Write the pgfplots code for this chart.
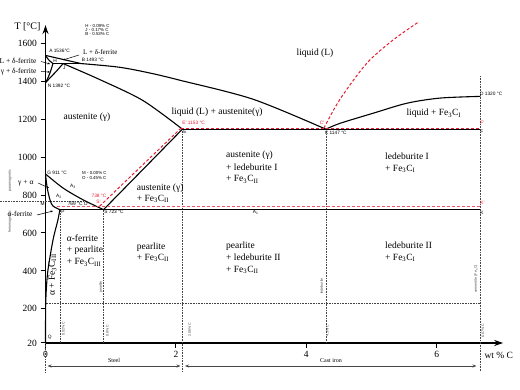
\documentclass[border=0pt]{standalone}
\usepackage{pgfplots}
\pgfplotsset{compat=1.18}
\usepackage{fontspec}
\setmainfont{Liberation Serif}
\setsansfont{Liberation Sans}
\usetikzlibrary{arrows.meta}
\definecolor{rd}{RGB}{228,32,48}
\definecolor{dg}{RGB}{70,70,70}
\tikzset{
  lbl/.style={font=\fontsize{9.5}{11.5}\selectfont},
  sm/.style={font=\sffamily\fontsize{4.8}{5}\selectfont, inner sep=0.6pt},
  tn/.style={font=\sffamily\fontsize{3.6}{4}\selectfont, inner sep=0.5pt},
  an/.style={font=\sffamily\fontsize{4.4}{4.5}\selectfont, inner sep=0.3pt},
}
\newcommand\FeC[1]{Fe\textsubscript{3}C\textsubscript{#1}}
\begin{document}
\begin{tikzpicture}
\useasboundingbox (-45.5pt,-47pt) rectangle (474.5pt,343pt);
\begin{axis}[
  at={(0,0)}, anchor=south west,
  x=65.2pt, y=0.1897pt,
  xmin=0, xmax=7.02, ymin=20, ymax=1696,
  axis lines=left,
  axis line style={line width=1.3pt, -{Stealth[length=9pt,width=6pt]}},
  clip=false,
  xtick={0,2,4,6},
  ytick={20,200,400,600,800,1000,1200,1400,1600},
  tick align=outside, major tick length=5pt,
  tick style={line width=1pt,black},
  ticklabel style={font=\fontsize{9.5}{10}\selectfont},
  /pgf/number format/assume math mode=true,
  /pgf/number format/1000 sep={},
]
% --- dotted reference lines
\addplot[densely dotted, line width=0.6pt, dg] coordinates {(0.22,723) (0.22,20)};
\addplot[densely dotted, line width=0.6pt, dg] coordinates {(0.89,723) (0.89,20)};
\addplot[densely dotted, line width=0.6pt, dg] coordinates {(2.1,1147) (2.1,-133)};
\addplot[densely dotted, line width=0.6pt, dg] coordinates {(4.3,1147) (4.3,20)};
\addplot[densely dotted, line width=0.6pt, dg] coordinates {(6.67,1427) (6.67,-133)};
\addplot[densely dotted, line width=0.6pt, dg] coordinates {(0,20) (0,-133)};
\addplot[densely dotted, line width=0.6pt, dg] coordinates {(0,230) (6.67,230)};
\addplot[densely dotted, line width=0.6pt, dg] coordinates {(-0.70,769) (0.6,769)};
% --- phase boundaries
\addplot[line width=1.1pt] coordinates {(0,1536) (0.545,1493)};
\addplot[line width=1.1pt, smooth] coordinates {(0.545,1493) (1.126,1474) (1.603,1443) (2.063,1405) (3.183,1305) (4.30,1147)};
\addplot[line width=1.1pt] coordinates {(0.115,1493) (0.545,1493)};
\addplot[line width=1.1pt, smooth] coordinates {(0,1536) (0.05,1512) (0.115,1493)};
\addplot[line width=1.1pt, smooth] coordinates {(0.115,1493) (0.07,1445) (0.03,1412) (0,1392)};
\addplot[line width=1.1pt, smooth] coordinates {(0,1392) (0.07,1418) (0.16,1450) (0.27,1493)};
\addplot[line width=1.1pt, smooth] coordinates {(0.27,1493) (0.836,1408) (1.495,1298) (2.1,1147)};
\addplot[line width=1.1pt] coordinates {(2.1,1147) (6.67,1147)};
\addplot[line width=1.1pt, smooth] coordinates {(4.3,1147) (4.517,1178) (5.023,1231) (5.544,1284) (6.05,1311) (6.67,1320)};
\addplot[line width=1.1pt] coordinates {(2.1,1147) (0.89,723)};
\addplot[line width=1.1pt, smooth] coordinates {(0,911) (0.273,836) (0.58,774) (0.89,723)};
\addplot[line width=1.1pt, smooth] coordinates {(0,911) (0.025,840) (0.069,774) (0.115,742) (0.22,723)};
\addplot[line width=1.1pt] coordinates {(0.22,723) (6.67,723)};
\addplot[line width=1.1pt, smooth] coordinates {(0.22,723) (0.19,668) (0.115,563) (0.038,405) (0.012,300) (0.002,200) (0,20)};
% --- metastable (red dashed)
\addplot[rd, line width=1pt, dash pattern=on 3pt off 2pt, smooth] coordinates {(4.27,1153) (4.517,1305) (4.926,1494) (5.33,1617) (5.73,1714)};
\addplot[rd, line width=1pt, dash pattern=on 3pt off 2pt] coordinates {(2.08,1153) (6.67,1153)};
\addplot[rd, line width=1pt, dash pattern=on 3pt off 2pt] coordinates {(2.08,1153) (0.82,738)};
\addplot[rd!75, line width=1.2pt, dash pattern=on 3pt off 2pt] coordinates {(0.18,738) (6.67,738)};
\end{axis}
\begin{scope}[shift={(-45.5pt,343pt)}, x=1pt, y=-1pt]
% axis titles
\node[font=\fontsize{10}{11}\selectfont] at (27.5,27) {T [°C]};
\node[font=\fontsize{9.5}{11}\selectfont, anchor=west] at (481,355) {wt \% C};
% steel / cast iron
\draw[dg, line width=0.8pt, {Stealth[length=4pt,width=3pt]}-{Stealth[length=4pt,width=3pt]}] (47.5,366) -- (180.5,366);
\draw[dg, line width=0.8pt, {Stealth[length=4pt,width=3pt]}-{Stealth[length=4pt,width=3pt]}] (185,366) -- (476.5,366);
\node[font=\fontsize{6}{7}\selectfont] at (114,360.5) {Steel};
\node[font=\fontsize{6}{7}\selectfont] at (331,360.5) {Cast iron};
% region labels
\node[lbl] at (315,53) {liquid (L)};
\node[lbl] at (87,117) {austenite (γ)};
\node[lbl, anchor=base west] at (168,115) {liquid (L) + austenite(γ)};
\node[lbl, anchor=base west] at (403,116) {liquid + \FeC{I}};
\node[lbl, anchor=base west] at (222.7,158) {austenite (γ)};
\node[lbl, anchor=base west] at (222.7,170.7) {+ ledeburite I};
\node[lbl, anchor=base west] at (222.7,182) {+ \FeC{II}};
\node[lbl, anchor=base west] at (381.7,159.7) {ledeburite I};
\node[lbl, anchor=base west] at (381.7,171.3) {+ \FeC{I}};
\node[lbl, anchor=base west] at (133.3,190.3) {austenite (γ)};
\node[lbl, anchor=base west] at (133.3,201.3) {+ \FeC{II}};
\node[lbl, anchor=base west] at (63.3,241.3) {α-ferrite};
\node[lbl, anchor=base west] at (63.3,253) {+ pearlite};
\node[lbl, anchor=base west] at (63.3,265) {+ \FeC{III}};
\node[lbl, anchor=base west] at (133.3,249.7) {pearlite};
\node[lbl, anchor=base west] at (133.3,260.7) {+ \FeC{II}};
\node[lbl, anchor=base west] at (222.7,249) {pearlite};
\node[lbl, anchor=base west] at (222.7,260.7) {+ ledeburite II};
\node[lbl, anchor=base west] at (222.7,272.3) {+ \FeC{II}};
\node[lbl, anchor=base west] at (381.7,249) {ledeburite II};
\node[lbl, anchor=base west] at (381.7,260.7) {+ \FeC{I}};
\node[lbl, rotate=90] at (52.5,275) {α + \FeC{III}};
% side labels with leaders
\node[font=\fontsize{7.5}{8}\selectfont, anchor=east] at (40,61) {L + δ-ferrite};
\node[font=\fontsize{7.5}{8}\selectfont, anchor=east] at (40,71.5) {γ + δ-ferrite};
\node[font=\fontsize{7}{8}\selectfont, anchor=west] at (79.5,51.7) {L + δ-ferrite};
\node[font=\fontsize{7.5}{8}\selectfont, anchor=east] at (37,183) {γ + α};
\node[font=\fontsize{7.5}{8}\selectfont, anchor=east] at (36,214) {α-ferrite};
\draw[line width=0.5pt, -{Stealth[length=2.5pt,width=2pt]}] (41,61.5) -- (50,64);
\draw[line width=0.5pt, -{Stealth[length=2.5pt,width=2pt]}] (41,71.5) -- (50,72);
\draw[line width=0.5pt, -{Stealth[length=2.5pt,width=2pt]}] (79,55) -- (63,60);
\draw[line width=0.5pt, -{Stealth[length=2.5pt,width=2pt]}] (38,183) -- (49,188);
\draw[line width=0.5pt, -{Stealth[length=2.5pt,width=2pt]}] (37,215) -- (53,211);
% point labels
\node[sm, anchor=west] at (48.5,51) {A 1536°C};
\node[sm, anchor=west] at (81,60) {B 1493 °C};
\node[sm] at (55,60.7) {H};
\node[sm] at (64.3,68.3) {J};
\node[sm, anchor=west] at (47,86) {N 1392 °C};
\node[an, anchor=west] at (85,26) {H - 0.09\% C};
\node[an, anchor=west] at (85,30) {J - 0.17\% C};
\node[an, anchor=west] at (85,34) {B - 0.53\% C};
\node[sm, anchor=west] at (46.5,172.5) {G 911 °C};
\node[an, anchor=west] at (81.7,173.3) {M - 0.00\% C};
\node[an, anchor=west] at (81.7,177.5) {O - 0.45\% C};
\node[sm, anchor=west] at (67,203.5) {769 °C O};
\node[sm, anchor=east] at (45.5,203.5) {M};
\node[sm, anchor=west] at (60.5,212) {P};
\node[sm, anchor=west] at (103.5,212.3) {S 723 °C};
\node[sm, anchor=west] at (182.5,131.7) {E};
\node[sm, anchor=west] at (324,133.3) {C 1147 °C};
\node[sm, anchor=west] at (479.3,94) {D 1320 °C};
\node[sm, anchor=west] at (479.5,131.7) {F};
\node[sm, anchor=west] at (479.5,212.7) {K};
\node[sm, anchor=west] at (47,337.5) {Q};
\node[sm, anchor=west] at (252,212.5) {A\textsubscript{1}};
\node[sm] at (73,186) {A\textsubscript{3}};
\node[sm] at (59,196.5) {A\textsubscript{2}};
\node[sm, rd, anchor=west] at (181.5,123.3) {E' 1153 °C};
\node[sm, rd, anchor=west] at (319,122.7) {C'};
\node[sm, rd, anchor=west] at (479.5,122.7) {F'};
\node[sm, rd, anchor=west] at (479.5,203.3) {K'};
\node[sm, rd] at (99,195.5) {738 °C};
\node[sm, rd] at (98.5,202) {S'};
% rotated tiny labels
\node[tn, dg, rotate=90] at (10,181) {paramagnetic};
\node[tn, dg, rotate=90] at (10,222) {ferromagnetic};
\node[tn, dg, rotate=90] at (63.5,329) {0.02\% C};
\node[tn, dg, rotate=90] at (101,287) {pearlite};
\node[tn, dg, rotate=90] at (107.5,331) {0.8\% C};
\node[tn, dg, rotate=90] at (189.7,330) {2.06\% C};
\node[tn, dg, rotate=90] at (321.5,286) {ledeburite};
\node[tn, dg, rotate=90] at (327.5,331) {4.3\% C};
\node[tn, dg, rotate=90] at (476,279) {cementite (Fe\textsubscript{3}C)};
\node[tn, dg, rotate=90] at (483,331) {6.67\% C};
\end{scope}
\end{tikzpicture}
\end{document}
